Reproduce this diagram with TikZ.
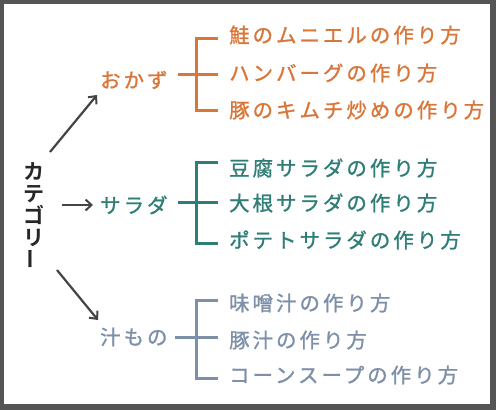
\documentclass[tikz,border=0pt]{standalone}
\usepackage{fontspec}
\usepackage{graphicx}
\usetikzlibrary{arrows.meta}
\newfontfamily\jp[LetterSpace=15,FakeBold=1.2]{Noto Sans CJK JP}
\newfontfamily\jpb[LetterSpace=0]{Noto Sans CJK JP Bold}
\definecolor{frame}{HTML}{555555}
\definecolor{ora}{HTML}{D9763A}
\definecolor{tea}{HTML}{2E7D76}
\definecolor{gbl}{HTML}{7D90A8}
\definecolor{arr}{HTML}{444444}
\begin{document}
\begin{tikzpicture}[x=1pt,y=-1pt,
  lab/.style={anchor=west,inner sep=0pt,font=\jp\fontsize{20.4}{20.4}\selectfont},
  brk/.style={line width=3pt},
  arrw/.style={arr,line width=2.2pt,-{Straight Barb[length=6pt,width=11pt,line width=2pt]}}]
\fill[frame] (0,0) rectangle (496,410);
\fill[white] (4,4) rectangle (490,404);
\useasboundingbox (0,0) rectangle (496,410);
% category
\node[inner sep=0pt,align=center,text=black!85,font=\jpb\fontsize{21}{22}\selectfont] (cat) at (34,216)
  {カ\\テ\\ゴ\\リ\\\rotatebox{90}{ー}};
% level 1
\node[lab,text=ora] (ok) at (100,80) {おかず};
\node[lab,text=tea] (sa) at (100,205) {サラダ};
\node[lab,text=gbl] (si) at (100,337) {汁もの};
% arrows
\coordinate (a1s) at (50,152); \coordinate (a1e) at (97,95);
\coordinate (a2s) at (62,205); \coordinate (a2e) at (93,205);
\coordinate (a3s) at (57,270); \coordinate (a3e) at (98,320);
\draw[arrw] (a1s) -- (a1e);
\draw[arrw] (a2s) -- (a2e);
\draw[arrw] (a3s) -- (a3e);
% brackets
\foreach \c/\t/\m/\b/\s in {ora/38/74/110/178, tea/162/202/243/178, gbl/300/337/378/175}{
  \draw[brk,\c] (218,\t) -- (196,\t) -- (196,\b) -- (218,\b);
  \draw[brk,\c] (\s,\m) -- (218,\m);
}
% items
\node[lab,text=ora] (o1) at (229,35) {鮭のムニエルの作り方};
\node[lab,text=ora] (o2) at (229,73) {ハンバーグの作り方};
\node[lab,text=ora] (o3) at (229,110) {豚のキムチ炒めの作り方};
\node[lab,text=tea] (t1) at (229,168) {豆腐サラダの作り方};
\node[lab,text=tea] (t2) at (229,203) {大根サラダの作り方};
\node[lab,text=tea] (t3) at (229,240) {ポテトサラダの作り方};
\node[lab,text=gbl] (g1) at (229,303) {味噌汁の作り方};
\node[lab,text=gbl] (g2) at (229,340) {豚汁の作り方};
\node[lab,text=gbl] (g3) at (229,375) {コーンスープの作り方};
\end{tikzpicture}
\end{document}
